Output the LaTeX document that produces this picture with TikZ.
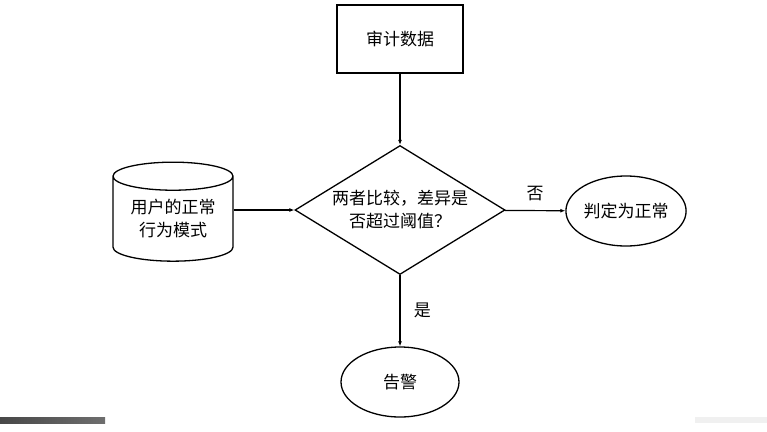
\documentclass[tikz,border=0pt]{standalone}
\usepackage{fontspec}
\usepackage{xcolor}
\usepackage{tikz}
\usetikzlibrary{shapes.geometric, arrows.meta, positioning, calc}
\newfontfamily\cjk{Noto Sans CJK SC}
\definecolor{barDark}{RGB}{72, 72, 72}
\definecolor{barMid}{RGB}{110, 110, 110}
\definecolor{barLight}{RGB}{240, 240, 240}

\begin{document}
\begin{tikzpicture}[
    x=1pt, y=-1pt,
    every node/.style={font=\cjk\fontsize{17}{23}\selectfont, align=center},
    procbox/.style={draw, line width=1.3pt, minimum width=126pt, minimum height=68pt, inner sep=0pt},
    decbox/.style={draw, diamond, aspect=1.63, line width=1.3pt, minimum width=210pt, minimum height=129pt, inner sep=0pt},
    endbox/.style={draw, ellipse, line width=1.3pt, minimum width=118pt, minimum height=70pt, inner sep=0pt},
    storebox/.style={draw, cylinder, shape border rotate=90, aspect=0.33, line width=1.3pt, minimum width=120pt, minimum height=99pt, inner sep=0pt},
    arr/.style={-{Latex[length=5pt, width=4pt]}, line width=1.2pt}
]
\useasboundingbox (0,0) rectangle (767,431);

% Audit data
\node[procbox] (audit) at (400,39) {审计数据};

% Compare step
\node[decbox] (compare) at (400,210) {两者比较，差异是\\否超过阈值？};

% Normal behaviour pattern
\node[storebox] (pattern) at (173,219) {用户的正常\\行为模式};

% Outcomes
\node[endbox] (normal) at (626,211) {判定为正常};
\node[endbox] (alarm) at (400,382) {告警};

% Arrows
\draw[arr] (pattern.east |- compare.west) -- (compare.west);
\draw[arr] (audit) -- (compare);
\draw[arr] (compare) -- (normal) node[midway, above=6pt] {否};
\draw[arr] (compare) -- (alarm) node[midway, right=10pt] {是};

% Screenshot edge bars
\node[minimum width=105pt, minimum height=6pt, inner sep=0pt, anchor=north west, left color=barDark, right color=barMid] (leftbar) at (0,417) {};
\node[fill=barLight, minimum width=72pt, minimum height=6pt, inner sep=0pt, anchor=north east] (rightbar) at (767,417) {};

\end{tikzpicture}
\end{document}
